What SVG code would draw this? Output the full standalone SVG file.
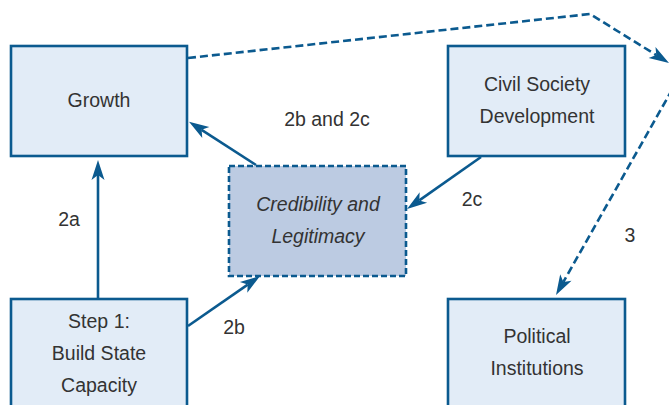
<svg xmlns="http://www.w3.org/2000/svg" width="669" height="405" viewBox="0 0 669 405">
<defs>
<style>
.box{fill:#e2ecf7;stroke:#0b5a8f;stroke-width:2.6}
.dbox{fill:#bccbe2;stroke:#0b5a8f;stroke-width:2.6;stroke-dasharray:6 3}
.t{font-family:"Liberation Sans",Arial,sans-serif;font-size:19.5px;fill:#333;text-anchor:middle}
.it{font-style:italic}
.c{fill:none;stroke:#0b5a8f;stroke-width:2.6}
.dash{stroke-dasharray:8 4}
</style>
<marker id="ah" markerUnits="userSpaceOnUse" markerWidth="30" markerHeight="20" viewBox="-10 -10 30 20" refX="0" refY="0" orient="auto" overflow="visible">
<path d="M15,0 L-5,-6.5 L0,0 L-5,6.5 Z" fill="#0b5a8f"/>
</marker>
</defs>
<rect width="669" height="405" fill="#fff"/>
<g id="connectors">
<path class="c" d="M98,298 L98,175" marker-end="url(#ah)"/>
<path class="c" d="M188,326 L247.7,284.6" marker-end="url(#ah)"/>
<path class="c" d="M256,165 L201.6,129.8" marker-end="url(#ah)"/>
<path class="c" d="M481,157 L419.3,200.4" marker-end="url(#ah)"/>
<path class="c dash" d="M188,58 L590,14 L656.3,55.1" marker-end="url(#ah)"/>
<path class="c dash" d="M690,58 L563.4,281.9" marker-end="url(#ah)"/>
<text class="t" x="327" y="126">2b and 2c</text>
<text class="t" x="69" y="226">2a</text>
<text class="t" x="234" y="334">2b</text>
<text class="t" x="472" y="206">2c</text>
<text class="t" x="630" y="242">3</text>
</g>
<g id="growth">
<rect class="box" x="11" y="46" width="176" height="110"/>
<text class="t" x="99" y="107">Growth</text>
</g>
<g id="civil-society">
<rect class="box" x="448" y="46" width="177" height="110"/>
<text class="t" x="537" y="91">Civil Society</text>
<text class="t" x="537" y="123">Development</text>
</g>
<g id="credibility">
<rect class="dbox" x="229" y="166" width="177" height="110"/>
<text class="t it" x="318" y="211">Credibility and</text>
<text class="t it" x="318" y="243">Legitimacy</text>
</g>
<g id="step1">
<rect class="box" x="11" y="299" width="176" height="120"/>
<text class="t" x="99" y="328">Step 1:</text>
<text class="t" x="99" y="360">Build State</text>
<text class="t" x="99" y="392">Capacity</text>
</g>
<g id="political">
<rect class="box" x="448" y="299" width="177" height="120"/>
<text class="t" x="537" y="343">Political</text>
<text class="t" x="537" y="375">Institutions</text>
</g>
</svg>
